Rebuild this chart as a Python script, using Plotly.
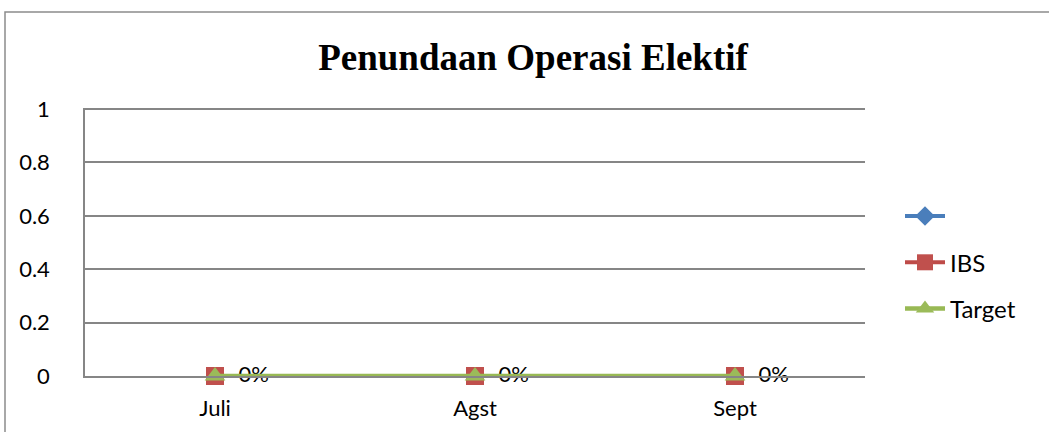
import plotly.graph_objects as go

categories = ["Juli", "Agst", "Sept"]
blue_values = [None, None, None]
ibs_values = [0, 0, 0]
target_values = [0, 0, 0]
ibs_labels = ["0%", "0%", "0%"]
y_ticks = [0, 0.2, 0.4, 0.6, 0.8, 1]
y_tick_labels = ["0", "0.2", "0.4", "0.6", "0.8", "1"]

FONT = "Lato, Carlito, Calibri, 'Liberation Sans', sans-serif"
FS = 22

fig = go.Figure()
fig.add_trace(go.Scatter(
    x=categories, y=blue_values, name=" ", mode="lines+markers", legendgroup="a",
    line=dict(color="#4A7EBB", width=4),
    marker=dict(symbol="diamond", size=15, color="#4A7EBB"),
))
fig.add_trace(go.Scatter(
    x=categories, y=ibs_values, name="IBS", mode="lines+markers+text", legendgroup="b",
    line=dict(color="#BE4B48", width=4),
    marker=dict(symbol="square", size=18, color="#C0504D"),
    text=["  " + t for t in ibs_labels], textposition="middle right",
    textfont=dict(family=FONT, size=FS, color="black"),
    cliponaxis=False,
))
fig.add_trace(go.Scatter(
    x=categories, y=target_values, name="Target", mode="lines+markers", legendgroup="c",
    line=dict(color="#98B954", width=4.5),
    marker=dict(symbol="triangle-up", size=18, color="#9BBB59"),
    cliponaxis=False,
))

W, H = 1049, 432
L, R, T, B = 85, 184, 108, 56
pw, ph = W - L - R, H - T - B

def px_x(x):
    return (x - L) / pw

def px_y(y):
    return (H - B - y) / ph

fig.add_shape(type="rect", xref="paper", yref="paper",
              x0=px_x(5), x1=px_x(1060), y0=px_y(445), y1=px_y(12),
              line=dict(color="#8C8C8C", width=1.5), layer="below")

fig.update_layout(
    width=W, height=H,
    margin=dict(l=L, r=R, t=T, b=B),
    paper_bgcolor="white", plot_bgcolor="white",
    title=dict(text="<b>Penundaan Operasi Elektif</b>", x=533 / W, xanchor="center",
               y=1 - 57 / H, yanchor="middle",
               font=dict(family="'Liberation Serif', 'Times New Roman', serif", size=37, color="black")),
    font=dict(family=FONT, size=FS, color="black"),
    showlegend=True,
    legend=dict(x=px_x(900), y=px_y(194), xanchor="left", yanchor="top",
                font=dict(family=FONT, size=24, color="black"),
                tracegroupgap=12, itemwidth=40, bgcolor="rgba(0,0,0,0)"),
    xaxis=dict(type="category", range=[-0.5, 2.5], showgrid=False,
               showline=True, linecolor="#868686", linewidth=1.5,
               ticks="", ticklabelstandoff=12, tickfont=dict(family=FONT, size=FS)),
    yaxis=dict(range=[0, 1.004], tickvals=y_ticks, ticktext=y_tick_labels,
               showgrid=True, gridcolor="#868686", gridwidth=1.5,
               showline=True, linecolor="#868686", linewidth=1.5,
               zeroline=False, ticks="", ticklabelstandoff=29,
               tickfont=dict(family=FONT, size=FS)),
)

fig.write_html("out.html", config={"displayModeBar": False})
with open("out.html", "r", encoding="utf-8") as f:
    html = f.read()
html = html.replace("<body>", '<body style="margin:0;padding:0;overflow:hidden">', 1)
with open("out.html", "w", encoding="utf-8") as f:
    f.write(html)
